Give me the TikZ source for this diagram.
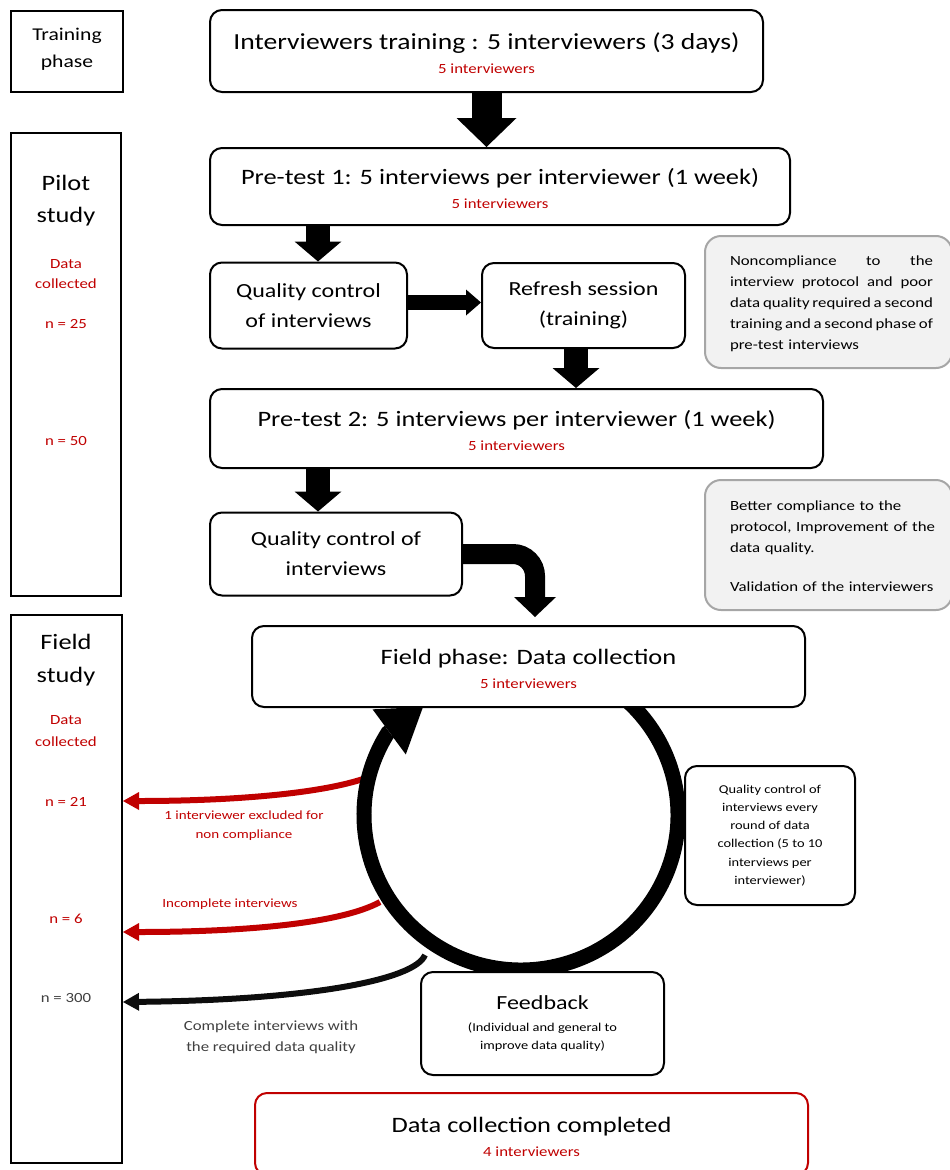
\documentclass[tikz,border=0pt]{standalone}
\usepackage{fontspec}
\setmainfont{Carlito}[FakeStretch = 1.2]
\usepackage{tikz}
\usetikzlibrary{arrows.meta}
\definecolor{dred}{HTML}{C00000}
\definecolor{notegray}{HTML}{F2F2F2}
\definecolor{noteline}{HTML}{A6A6A6}
\definecolor{textgray}{HTML}{404040}
\newcommand{\fsz}[2]{\fontsize{#1}{#2}\selectfont}
\newcommand{\spreadline}[1]{\leavevmode\hbox to 203pt{#1}}

\begin{document}
\begin{tikzpicture}[x = 1pt, y = -1pt,
  phasebox/.style = {draw, line width = 2pt, inner sep = 0pt},
  stagebox/.style = {draw, line width = 2pt, rounded corners = 12pt, fill = white, align = center, inner sep = 0pt},
  notebox/.style = {draw = noteline, fill = notegray, line width = 2pt, rounded corners = 16pt, inner sep = 0pt},
  lbl/.style = {inner sep = 0pt, align = center},
  bigarrow/.style = {line width = 30pt, -{Triangle[width = 60pt, length = 29pt, line width = 0pt]}},
  midarrow/.style = {line width = 24pt, -{Triangle[width = 47pt, length = 20pt, line width = 0pt]}},
  thinarrow/.style = {line width = 15pt, -{Triangle[width = 26pt, length = 15pt, line width = 0pt]}},
  bendarrow/.style = {line width = 20pt, rounded corners = 22pt, -{Triangle[width = 42pt, length = 20pt, line width = 0pt]}},
  cyclearrow/.style = {line width = 15pt, -{Triangle[width = 56pt, length = 42pt, line width = 0pt]}},
  loss/.style = {line width = 6pt, -{Triangle[width = 18pt, length = 16pt, line width = 0pt]}}
]
 \useasboundingbox (0, 0) rectangle (950, 1170);
 % phases on the left
 \node (training) at (67, 51.5) [phasebox, minimum width = 112pt, minimum height = 81pt] {};
 \node (trtext) at (67, 49.5) [lbl, font = \fsz{18}{27}] {Training\\phase};
 \node (pilot) at (66, 364.5) [phasebox, minimum width = 110pt, minimum height = 463pt] {};
 \node (pltext) at (66, 201) [lbl, font = \fsz{22}{32}] {Pilot\\study};
 \node (pldata) at (66, 274) [lbl, dred, font = \fsz{14}{20}] {Data\\collected};
 \node (pln25) at (66, 324) [lbl, dred, font = \fsz{14}{17}] {n = 25};
 \node (pln50) at (66, 441) [lbl, dred, font = \fsz{14}{17}] {n = 50};
 \node (field) at (66.5, 889) [phasebox, minimum width = 111pt, minimum height = 548pt] {};
 \node (fdtext) at (66, 660) [lbl, font = \fsz{22}{33}] {Field\\study};
 \node (fddata) at (66, 731) [lbl, dred, font = \fsz{14}{22}] {Data\\collected};
 \node (fdn21) at (66, 802) [lbl, dred, font = \fsz{14}{17}] {n = 21};
 \node (fdn6) at (66, 919) [lbl, dred, font = \fsz{14}{17}] {n = 6};
 \node (fdn300) at (66, 998) [lbl, textgray, font = \fsz{14}{17}] {n = 300};
 % training and pilot study
 \node (t1) at (486.5, 51) [stagebox, minimum width = 553pt, minimum height = 82pt, font = \fsz{14}{17}] {\fsz{23}{26}\rule{0pt}{21pt}Interviewers training : 5 interviewers (3 days)\\[7pt]\textcolor{dred}{5 interviewers}};
 \node (t2) at (500, 186.5) [stagebox, minimum width = 580pt, minimum height = 77pt, font = \fsz{14}{17}] {\fsz{22}{26}\rule{0pt}{21pt}Pre-test 1: 5 interviews per interviewer (1 week)\\[7pt]\textcolor{dred}{5 interviewers}};
 \node (qc1) at (308.5, 305.5) [stagebox, minimum width = 197pt, minimum height = 86pt, font = \fsz{20}{30}] {Quality control\\of interviews};
 \node (rs) at (583.5, 305.5) [stagebox, minimum width = 203pt, minimum height = 85pt, font = \fsz{20}{30}] {Refresh session\\(training)};
 \node (p2) at (516.5, 428.5) [stagebox, minimum width = 613pt, minimum height = 79pt, font = \fsz{14}{17}] {\fsz{22}{26}\rule{0pt}{21pt}Pre-test 2: 5 interviews per interviewer (1 week)\\[7pt]\textcolor{dred}{5 interviewers}};
 \node (qc2) at (336, 554) [stagebox, minimum width = 252pt, minimum height = 83pt, font = \fsz{20}{30}] {Quality control of\\interviews};
 \node (note1) at (828.5, 302) [notebox, minimum width = 247pt, minimum height = 132pt] {};
 \node (note1text) at (831.5, 304) [inner sep = 0pt, text width = 203pt, align = left, font = \fsz{14}{21}] {\spreadline{Noncompliance\hfill to\hfill the}\\\spreadline{interview\hfill protocol\hfill and\hfill poor}\\\spreadline{data\hfill quality\hfill required\hfill a\hfill second}\\\spreadline{training\hfill and\hfill a\hfill second\hfill phase\hfill of}\\pre-test interviews};
 \node (note2) at (828.5, 545) [notebox, minimum width = 247pt, minimum height = 130pt] {};
 \node (note2text) at (840, 546) [inner sep = 0pt, text width = 220pt, align = left, font = \fsz{14}{21}] {Better compliance to the\\protocol, Improvement of the\\data quality.\\[18pt]Validation of the interviewers};
 \draw[bigarrow] (t1.south) -- (t1.south |- t2.north);
 \draw[midarrow] ([xshift = 9.5pt]qc1.north |- t2.south) -- ([xshift = 9.5pt]qc1.north);
 \draw[thinarrow] ([yshift = 3pt]qc1.east) -- ([yshift = 3pt]rs.west);
 \draw[midarrow] ([xshift = -7.5pt]rs.south) -- ([xshift = -7.5pt]rs.south |- p2.north);
 \draw[midarrow] ([xshift = -18pt]qc2.north |- p2.south) -- ([xshift = -18pt]qc2.north);
 % field study
 \coordinate (loopc) at (521, 815);
 \coordinate (looptip) at (423, 707);
 \coordinate (cut1) at (366, 778);
 \coordinate (cut2) at (380, 902);
 \coordinate (cut3) at (425, 955);
 \draw[loss, dred] (cut1) .. controls (320, 794) and (230, 801) .. ([yshift = 88pt]field.east);
 \draw[loss, dred] (cut2) .. controls (340, 924) and (240, 932) .. ([yshift = -43pt]field.east);
 \draw[loss, black!95] (cut3) .. controls (415, 980) and (310, 1000) .. ([yshift = -113pt]field.east);
 \draw[cyclearrow] ([shift = {(55:157pt and 155pt)}]loopc) arc[start angle = 55, end angle = -212, x radius = 157pt, y radius = 155pt] -- (looptip);
 \node (lbl1) at (244, 825.5) [lbl, dred, font = \fsz{12.5}{19}] {1 interviewer excluded for\\non compliance};
 \node (lbl2) at (230, 904) [lbl, dred, font = \fsz{12.5}{19}] {Incomplete interviews};
 \node (lbl3) at (271, 1037) [lbl, textgray, font = \fsz{14}{21}] {Complete interviews with\\the required data quality};
 \node (fp) at (528.5, 666.5) [stagebox, minimum width = 553pt, minimum height = 81pt, font = \fsz{14}{17}] {\fsz{22}{26}\rule{0pt}{21pt}Field phase: Data collection\\[7pt]\textcolor{dred}{5 interviewers}};
 \node (qcr) at (770, 835.5) [stagebox, minimum width = 170pt, minimum height = 139pt, font = \fsz{12}{18.2}] {Quality control of\\interviews every\\round of data\\collection (5 to 10\\interviews per\\interviewer)};
 \node (fb) at (542.5, 1023.5) [stagebox, minimum width = 243pt, minimum height = 103pt, font = \fsz{12}{18}] {\fsz{20}{24}Feedback\\[4.5pt](Individual and general to\\improve data quality)};
 \node (done) at (531.5, 1134) [stagebox, draw = dred, minimum width = 553pt, minimum height = 82pt, font = \fsz{14}{17}] {\fsz{22}{26}\rule{0pt}{21pt}Data collection completed\\[7pt]\textcolor{dred}{4 interviewers}};
 \draw[bendarrow] (qc2.east) -| ([xshift = 6.5pt, yshift = 8pt]fp.north);
\end{tikzpicture}
\end{document}
